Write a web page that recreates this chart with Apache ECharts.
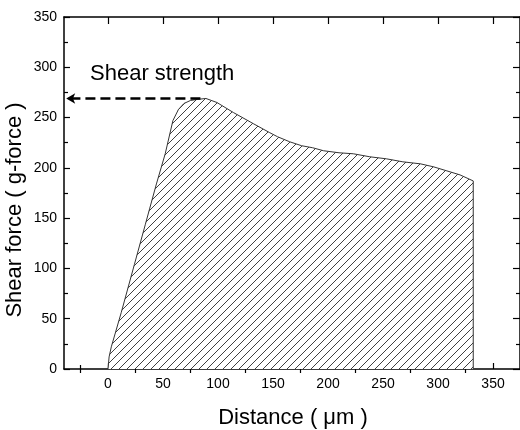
<!DOCTYPE html>
<html lang="en">
<head>
    <meta charset="UTF-8">
    <title>Shear force</title>
    <script src="https://cdn.jsdelivr.net/npm/echarts@6/dist/echarts.min.js"></script>
</head>
<body style="margin:0;background:#fff">
    <div id="container" style="width:520px;height:430px"></div>
</body>
<script>
    // shear curve
    var distance = [0, 1, 3, 12, 24, 34, 38, 44, 52, 59, 64, 69, 75, 81, 89, 99, 114, 132, 147, 154,
                    165, 176, 186, 196, 210, 223, 238, 253, 268, 284, 296, 308, 320, 332, 332];
    var force = [0, 12, 22, 56, 104, 144, 160, 184, 214, 247, 258, 264, 267, 268, 269, 265, 255, 244, 235, 231,
                 226, 222, 220, 217, 215, 214, 211, 209, 206, 204, 201, 197, 193, 187, 0];

    // dashed arrow: from the peak back to the y axis
    var arrowFrom = [84, 269];
    var arrowTo = [-38, 269];

    var xMajorTicks = [0, 50, 100, 150, 200, 250, 300, 350];
    var xMinorTicks = [-25, 25, 75, 125, 175, 225, 275, 325];

    var font = '"Liberation Sans", Arial, Helvetica, sans-serif';

    var points = [];
    for (var i = 0; i < distance.length; i++) {
        points.push([distance[i], force[i]]);
    }

    // hatch pattern for the area
    var hatch = document.createElement('canvas');
    hatch.width = 8;
    hatch.height = 8;
    var ctx = hatch.getContext('2d');
    ctx.fillStyle = '#fff';
    ctx.fillRect(0, 0, 8, 8);
    ctx.strokeStyle = '#2a2a2a';
    ctx.lineWidth = 0.9;
    ctx.beginPath();
    ctx.moveTo(0, 8); ctx.lineTo(8, 0);
    ctx.moveTo(-2, 2); ctx.lineTo(2, -2);
    ctx.moveTo(6, 10); ctx.lineTo(10, 6);
    ctx.stroke();

    var axisLine = {show: true, onZero: false, lineStyle: {color: '#000', width: 1.5}};
    var tickStyle = {color: '#000', width: 1.2};

    function xAxisDef(pos, ticks, len, withLine, withLabel) {
        return {
            type: 'value',
            position: pos,
            min: -40,
            max: 374.5,
            axisLine: withLine ? axisLine : {show: false},
            axisTick: {show: true, inside: true, length: len, customValues: ticks, lineStyle: tickStyle},
            axisLabel: withLabel ? {
                show: true, customValues: ticks, margin: 8,
                color: '#000', fontSize: 14, fontFamily: font
            } : {show: false},
            splitLine: {show: false}
        };
    }

    var dom = document.getElementById("container");
    var myChart = echarts.init(dom);

    var option = {
        animation: false,
        backgroundColor: '#fff',
        grid: {left: 64, top: 17, right: 0, bottom: 61},
        xAxis: [
            xAxisDef('bottom', xMajorTicks, 6, true, true),
            xAxisDef('bottom', xMinorTicks, 4, false, false),
            xAxisDef('top', xMajorTicks, 7, true, false),
            xAxisDef('top', xMinorTicks, 4, false, false)
        ],
        yAxis: [{
            type: 'value',
            position: 'left',
            min: 0,
            max: 350,
            interval: 50,
            axisLine: axisLine,
            axisTick: {inside: true, length: 6, lineStyle: tickStyle},
            minorTick: {show: true, splitNumber: 2, length: 4, lineStyle: tickStyle},
            axisLabel: {margin: 7, color: '#000', fontSize: 14, fontFamily: font},
            splitLine: {show: false}
        }, {
            type: 'value',
            position: 'right',
            min: 0,
            max: 350,
            interval: 50,
            axisLine: axisLine,
            axisTick: {inside: true, length: 7, lineStyle: tickStyle},
            minorTick: {show: true, splitNumber: 2, length: 4, lineStyle: tickStyle},
            axisLabel: {show: false},
            splitLine: {show: false}
        }],
        series: [{
            type: 'line',
            xAxisIndex: 0,
            yAxisIndex: 0,
            data: points,
            symbol: 'none',
            lineStyle: {color: '#333', width: 1},
            areaStyle: {color: {image: hatch, repeat: 'repeat'}, opacity: 1},
            markLine: {
                silent: true,
                animation: false,
                symbol: ['none', 'arrow'],
                symbolSize: [8, 9],
                label: {show: false},
                lineStyle: {type: [10, 5], width: 2.5, color: '#000'},
                data: [[{coord: arrowFrom}, {coord: arrowTo}]]
            }
        }],
        graphic: [{
            type: 'text', x: 90, y: 74,
            style: {text: 'Shear strength', font: '22px ' + font, fill: '#000', verticalAlign: 'middle', align: 'left'}
        }, {
            type: 'text', x: 228, y: 251,
            style: {text: 'Shear energy', font: '22px ' + font, fill: '#000', verticalAlign: 'middle', align: 'left'}
        }, {
            type: 'text', x: 293, y: 418,
            style: {text: 'Distance ( \u03bcm )', font: '22px ' + font, fill: '#000', align: 'center', verticalAlign: 'middle'}
        }, {
            type: 'text', x: 15, y: 210, rotation: Math.PI / 2,
            style: {text: 'Shear force ( g-force )', font: '22px ' + font, fill: '#000', align: 'center', verticalAlign: 'middle'}
        }]
    };
    myChart.setOption(option, true);
</script>
</html>
